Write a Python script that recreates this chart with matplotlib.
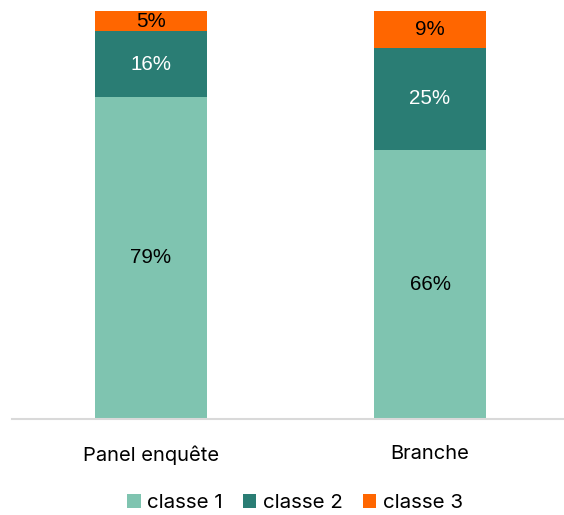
import matplotlib.pyplot as plt
import numpy as np

categories = ["Panel enquête", "Branche"]
series_names = ["classe 1", "classe 2", "classe 3"]
classe1 = [79, 66]
classe2 = [16, 25]
classe3 = [5, 9]

colors = ["#7fc4b0", "#2a7d74", "#ff6600"]
label_colors = ["#000000", "#ffffff", "#000000"]

fig = plt.figure(figsize=(5.64, 5.15), dpi=100)
ax = fig.add_axes([11.5 / 564, 1 - 419 / 515, 1 - 11.5 / 564, 408 / 515])

x = np.arange(len(categories))
bottom = np.zeros(len(categories))
for vals, name, col, lc in zip([classe1, classe2, classe3], series_names, colors, label_colors):
    bars = ax.bar(x, vals, 0.4, bottom=bottom, color=col, label=name)
    for xi, b, v in zip(x, bottom, vals):
        ax.text(xi, b + v / 2, f"{v}%", ha="center", va="center",
                fontsize=14.8, color=lc, family="Liberation Sans")
    bottom += vals

ax.set_xlim(-0.5, 1.48)
ax.set_ylim(0, 100)
ax.set_yticks([])
ax.set_xticks(x)
ax.set_xticklabels(categories, fontsize=14.5, family="Inter")
ax.tick_params(axis="x", length=0, pad=19)
for s in ["top", "right", "left"]:
    ax.spines[s].set_visible(False)
ax.spines["bottom"].set_color("#d9d9d9")
ax.spines["bottom"].set_linewidth(1.5)

fig.legend(loc="center", bbox_to_anchor=(295 / 564, 1 - 503 / 515), ncol=3, frameon=False,
           prop={"family": "Inter", "size": 14.8}, handlelength=0.65, handleheight=0.65,
           handletextpad=0.3, columnspacing=1.0)

fig.savefig("out.png", dpi=100)
